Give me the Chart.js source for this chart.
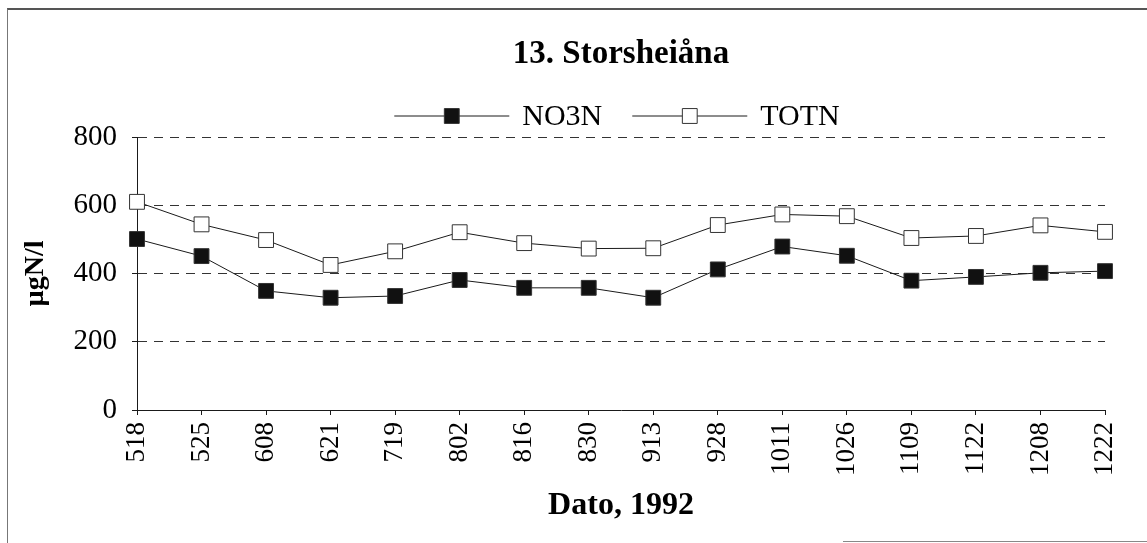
<!DOCTYPE html>
<html>
<head>
<meta charset="utf-8">
<script src="https://cdn.jsdelivr.net/npm/chart.js@4/dist/chart.umd.min.js"></script>
<style>
  html, body { margin: 0; padding: 0; background: #fff; }
  #wrap { position: relative; width: 1147px; height: 543px; }
  #frame { position: absolute; left: 7px; top: 8px; width: 1145px; height: 540px;
           border-left: 1px solid #777; border-top: 2px solid #555; box-sizing: border-box; }
  #frame-bottom { position: absolute; left: 843px; top: 541px; width: 304px; height: 0;
                  border-top: 1px solid #888; }
  canvas { position: absolute; left: 0; top: 0; }
</style>
</head>
<body>
<div id="wrap">
  <div id="frame"></div>
  <div id="frame-bottom"></div>
  <canvas id="chart" width="1147" height="543"></canvas>
</div>
<script>
// data
const chartTitle = "13. Storsheiåna";
const dates = ["518", "525", "608", "621", "719", "802", "816", "830",
               "913", "928", "1011", "1026", "1109", "1122", "1208", "1222"];
const no3n = [501, 451, 349, 329, 334, 381, 358, 358, 329, 412, 479, 452, 379, 390, 402, 407];
const totn = [610, 544, 498, 425, 465, 521, 489, 473, 474, 542, 573, 568, 504, 510, 541, 522];
const yTicks = [0, 200, 400, 600, 800];

const serif = "'Liberation Serif', 'Times New Roman', serif";
const ink = "#1a1a1a";

// title + legend (line with marker, like the old spreadsheet look)
const headerPlugin = {
  id: "header",
  afterDraw(chart) {
    const ctx = chart.ctx;
    const area = chart.chartArea;
    const cx = (area.left + area.right) / 2;
    ctx.save();
    ctx.fillStyle = "#000";
    ctx.font = "bold 33px " + serif;
    ctx.textAlign = "center";
    ctx.textBaseline = "alphabetic";
    ctx.fillText(chartTitle, cx, 63);

    ctx.font = "30px " + serif;
    const sample = 115, gap = 13, between = 30;
    const sets = chart.data.datasets;
    let total = 0;
    sets.forEach((ds, i) => {
      total += sample + gap + ctx.measureText(ds.label).width;
      if (i < sets.length - 1) total += between;
    });
    let x = cx - total / 2 - 4;
    const y = 116;
    sets.forEach((ds) => {
      ctx.strokeStyle = ds.borderColor;
      ctx.lineWidth = ds.borderWidth;
      ctx.beginPath();
      ctx.moveTo(x, y);
      ctx.lineTo(x + sample, y);
      ctx.stroke();
      // marker takes current fill/stroke
      ctx.fillStyle = ds.pointBackgroundColor;
      ctx.strokeStyle = ds.pointBorderColor;
      ctx.lineWidth = ds.pointBorderWidth;
      Chart.helpers.drawPoint(ctx, {
        pointStyle: ds.pointStyle,
        radius: ds.pointRadius,
        borderWidth: ds.pointBorderWidth,
        rotation: 0
      }, x + sample / 2, y);
      x += sample + gap;
      ctx.fillStyle = "#000";
      ctx.textAlign = "left";
      ctx.textBaseline = "middle";
      ctx.fillText(ds.label, x, y + 1);
      x += ctx.measureText(ds.label).width + between;
    });
    ctx.restore();
  }
};

new Chart(document.getElementById("chart"), {
  type: "line",
  data: {
    labels: dates,
    datasets: [
      {
        label: "NO3N",
        data: no3n,
        borderColor: ink,
        borderWidth: 1,
        backgroundColor: "#111",
        pointStyle: "rect",
        pointRadius: 10.5,
        pointBorderWidth: 1,
        pointBackgroundColor: "#111",
        pointBorderColor: "#333",
        tension: 0
      },
      {
        label: "TOTN",
        data: totn,
        borderColor: ink,
        borderWidth: 1,
        backgroundColor: "#fff",
        pointStyle: "rect",
        pointRadius: 10.5,
        pointBorderWidth: 1,
        pointBackgroundColor: "#fff",
        pointBorderColor: "#333",
        tension: 0
      }
    ]
  },
  options: {
    responsive: false,
    animation: false,
    layout: { padding: { top: 137, left: 15, right: 42, bottom: 14 } },
    plugins: {
      legend: { display: false },
      title: { display: false },
      tooltip: { enabled: false }
    },
    scales: {
      x: {
        offset: false,
        afterFit(scale) { scale.height = 119; },
        grid: { drawOnChartArea: false, tickLength: 5, color: ink },
        border: { color: ink, width: 1 },
        ticks: {
          autoSkip: false,
          maxRotation: 90,
          minRotation: 90,
          padding: 7,
          color: "#000",
          font: { family: serif, size: 27 }
        },
        title: {
          display: true,
          text: "Dato, 1992",
          color: "#000",
          font: { family: serif, size: 32, weight: "bold" },
          padding: { top: 4, bottom: 4 }
        }
      },
      y: {
        min: 0,
        max: 800,
        afterFit(scale) { scale.width = 122; },
        afterBuildTicks(scale) { scale.ticks = yTicks.map((v) => ({ value: v })); },
        grid: {
          color: (c) => (c.tick && c.tick.value === 0 ? "rgba(0,0,0,0)" : "#333"),
          tickColor: ink,
          tickBorderDash: [],
          tickLength: 5,
          lineWidth: 1
        },
        // in v4 border.dash dashes the grid lines, the axis line stays solid
        border: { color: ink, width: 1, dash: [9, 7] },
        ticks: {
          padding: 15,
          color: "#000",
          font: { family: serif, size: 29 }
        },
        title: {
          display: true,
          text: "µgN/l",
          color: "#000",
          font: { family: serif, size: 28, weight: "bold" },
          padding: { top: 4, bottom: 4 }
        }
      }
    }
  },
  plugins: [headerPlugin]
});
</script>
</body>
</html>
